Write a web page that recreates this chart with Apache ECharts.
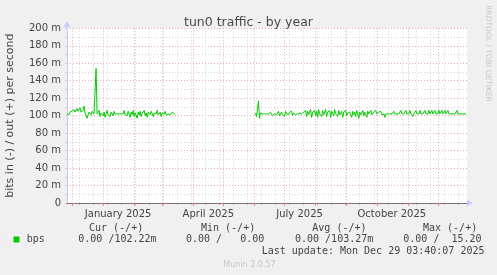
<!DOCTYPE html>
<html>
<head>
<meta charset="utf-8">
<script src="https://cdn.jsdelivr.net/npm/echarts@6/dist/echarts.min.js"></script>
<style>
html,body{margin:0;padding:0;background:#f0f0f0;}
#c{width:497px;height:275px;}
</style>
</head>
<body>
<div id="c"></div>
<script>
// ---- data (values in milli-bits per second) ----
const startDate = '2024-11-26';
const dayCount = 400;
const tickLabels = ['January 2025', 'April 2025', 'July 2025', 'October 2025'];
const tickLabelDates = ['2025-01-16', '2025-04-16', '2025-07-16', '2025-10-16'];
const yTicks = [0, 20, 40, 60, 80, 100, 120, 140, 160, 180, 200];

// first stretch of data (starting at the left edge)
const outSeg1 = [
  102,103,101,104,102,105,103,107,104,102,108,105,103,109,104,102,106,111,103,100,
  97,101,104,102,101,105,103,102,102,154,
  102,101,106,99,103,105,100,104,98,102,106,101,103,99,104,102,100,105,102,102,
  102,102,102,102,102,104,102,106,101,103,100,105,102,98,104,101,106,99,103,102,
  97,104,101,105,99,103,102,106,100,103,98,104,102,101,105,102,99,103,102,102,
  106,101,102,104,99,103,102,102,105,100,102,102,104,101,99,104,102,102,102
];
const outSeg2Start = '2025-06-02';
// second stretch of data (after the gap, to the right edge)
const outSeg2 = [
  103,99,108,117,97,103,101,
  102,102,102,103,102,102,102,102,104,102,100,102,102,
  104,101,103,105,100,102,104,101,103,99,105,102,103,101,104,102,105,100,103,104,
  101,102,102,102,103,102,102,101,104,102,106,99,105,101,103,107,98,104,102,106,
  100,105,98,107,102,104,99,106,101,103,107,99,104,102,106,98,105,103,100,107,
  102,104,99,106,101,103,105,98,104,102,106,100,103,102,104,
  103,98,105,101,104,99,106,102,97,104,101,103,106,100,104,102,98,105,102,103,
  106,101,102,104,102,106,102,102,104,102,105,101,102,102,98,102,102,102,102,102,
  102,102,102,105,102,102,102,102,102,102,
  106,102,102,102,102,106,102,102,102,106,102,102,99,102,102,106,102,102,102,106,
  102,102,102,102,106,102,102,102,106,102,102,106,102,102,106,102,102,102,106,102,
  102,106,102,102,106,102,102,106,102,102,102,102,102,102,102,102,106,102,102,102,
  102,102,102,102,102,102
];

// legend texts
const legendHeaders = ['Cur (-/+)', 'Min (-/+)', 'Avg (-/+)', 'Max (-/+)'];
const legendValues = ['0.00 /102.22m', '0.00 /   0.00', '0.00 /103.27m', '0.00 /  15.20'];
const seriesName = 'bps';
const titleText = 'tun0 traffic - by year';
const yName = 'bits in (-) / out (+) per second';
const lastUpdate = 'Last update: Mon Dec 29 03:40:07 2025';
const munin = 'Munin 2.0.57';
const watermark = 'RRDTOOL / TOBI OETIKER';

// ---- build category axis + series ----
const dates = [];
const t0 = Date.parse(startDate + 'T00:00:00Z');
for (let i = 0; i < dayCount; i++) {
  dates.push(new Date(t0 + i * 86400000).toISOString().slice(0, 10));
}
const seg2Index = dates.indexOf(outSeg2Start);
const seriesData = dates.map(() => null);
outSeg1.forEach((v, i) => { seriesData[i] = v; });
outSeg2.forEach((v, i) => { if (seg2Index + i < dayCount) seriesData[seg2Index + i] = v; });

const isMonthStart = (idx) => dates[idx] && dates[idx].slice(8) === '01';
const isMinor = (idx) => ((idx - 12) % 14 + 14) % 14 === 0;

const gridL = 67, gridT = 28.3, gridW = 400, gridB = 203;

const chart = echarts.init(document.getElementById('c'), null, {renderer: 'canvas'});
const textCol = '#444';

const graphics = [];
const hdrX = [89, 201, 312.3, 423];
const valX = [78.3, 186, 295, 403.3];
legendHeaders.forEach((t, i) => graphics.push({type: 'text', x: hdrX[i], y: 228, style: {text: t, font: '10px "DejaVu Sans Mono"', fill: textCol, verticalAlign: 'middle'}}));
legendValues.forEach((t, i) => graphics.push({type: 'text', x: valX[i], y: 239.5, style: {text: t, font: '10px "DejaVu Sans Mono"', fill: textCol, verticalAlign: 'middle'}}));
graphics.push({type: 'rect', shape: {x: 13.5, y: 236.5, width: 6, height: 6}, style: {fill: '#00cc00'}});
graphics.push({type: 'text', x: 26.7, y: 239.5, style: {text: seriesName, font: '10px "DejaVu Sans Mono"', fill: textCol, verticalAlign: 'middle'}});
graphics.push({type: 'text', x: 261.7, y: 251.5, style: {text: lastUpdate, font: '10px "DejaVu Sans Mono"', fill: textCol, verticalAlign: 'middle'}});
graphics.push({type: 'text', x: 223.3, y: 264.5, style: {text: munin, font: '8px "DejaVu Sans"', fill: '#c8c8c8', verticalAlign: 'middle'}});
graphics.push({type: 'text', x: 488, y: 53.5, rotation: -Math.PI / 2, style: {text: watermark, font: '7.5px "DejaVu Sans"', fill: '#c8c8c8', align: 'center', verticalAlign: 'middle'}});
// axis arrows
graphics.push({type: 'polygon', shape: {points: [[gridL + gridW, gridB - 3.5], [gridL + gridW + 6, gridB], [gridL + gridW, gridB + 3.5]]}, style: {fill: '#c8c8ff'}});
graphics.push({type: 'polygon', shape: {points: [[gridL - 3.5, gridT - 1], [gridL, gridT - 7], [gridL + 3.5, gridT - 1]]}, style: {fill: '#c8c8ff'}});

const option = {
  backgroundColor: '#f0f0f0',
  animation: false,
  title: {
    text: titleText, left: 'center', top: 11,
    textStyle: {fontFamily: 'DejaVu Sans', fontSize: 12.5, fontWeight: 'normal', color: '#4a4a4a'}
  },
  grid: {left: gridL, top: gridT, width: gridW, height: gridB - gridT, show: true, backgroundColor: '#ffffff', borderWidth: 0, containLabel: false, outerBoundsMode: 'none'},
  xAxis: [
    {
      type: 'category', data: dates, boundaryGap: false,
      axisLine: {show: true, lineStyle: {color: '#777', width: 1}},
      axisTick: {show: true, length: 3, interval: (idx) => isMonthStart(idx), lineStyle: {color: '#f08080'}},
      axisLabel: {
        interval: (idx, val) => tickLabelDates.indexOf(val) >= 0,
        formatter: (val) => tickLabels[tickLabelDates.indexOf(val)] || '',
        fontFamily: 'DejaVu Sans', fontSize: 10, color: '#444', margin: 6
      },
      splitLine: {show: true, interval: (idx) => isMonthStart(idx), lineStyle: {color: '#eeaaaa', type: [1, 2], width: 1}},
      z: 3
    },
    {
      type: 'category', data: dates, boundaryGap: false, position: 'bottom',
      axisLine: {show: false},
      axisTick: {show: true, length: 2, interval: (idx) => isMinor(idx), lineStyle: {color: '#bbb'}},
      axisLabel: {show: false},
      splitLine: {show: true, interval: (idx) => isMinor(idx), lineStyle: {color: '#d4d4d4', type: [1, 2], width: 1}}
    }
  ],
  yAxis: {
    type: 'value', min: yTicks[0], max: yTicks[yTicks.length - 1], interval: 20,
    name: yName, nameLocation: 'middle', nameGap: 51,
    nameTextStyle: {fontFamily: 'DejaVu Sans', fontSize: 11, color: '#444'},
    axisLine: {show: true, lineStyle: {color: '#c8c8ff'}},
    axisTick: {show: true, length: 2, lineStyle: {color: '#ccc'}},
    minorTick: {show: true, splitNumber: 2, length: 2, lineStyle: {color: '#ccc'}},
    axisLabel: {
      formatter: (v) => v === 0 ? '0' : v + ' m',
      fontFamily: 'DejaVu Sans', fontSize: 10, color: '#444', margin: 6
    },
    splitLine: {show: true, lineStyle: {color: '#eeaaaa', type: [1, 2], width: 1}},
    minorSplitLine: {show: true, lineStyle: {color: '#d4d4d4', type: [1, 2], width: 1}}
  },
  series: [{
    name: seriesName, type: 'line', data: seriesData, xAxisIndex: 0,
    showSymbol: false, connectNulls: false,
    lineStyle: {color: '#00cc00', width: 1}, itemStyle: {color: '#00cc00'},
    z: 5
  }],
  graphic: graphics
};
chart.setOption(option);
</script>
</body>
</html>
